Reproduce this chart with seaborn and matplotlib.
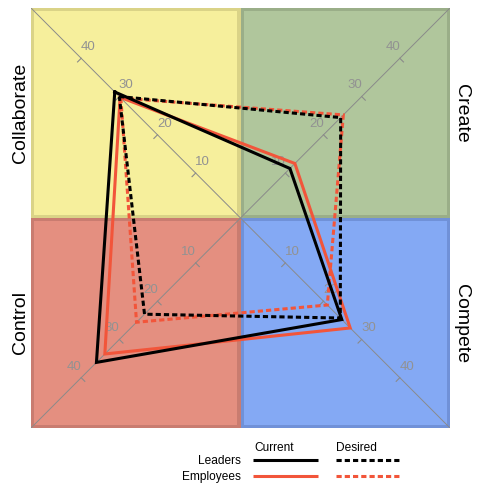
import numpy as np
import pandas as pd
import matplotlib
matplotlib.use("Agg")
import matplotlib.pyplot as plt
from matplotlib.patches import Rectangle
import seaborn as sns

# quadrant order: Collaborate (top-left), Create (top-right), Compete (bottom-right), Control (bottom-left)
quadrants = ["Collaborate", "Create", "Compete", "Control"]
current_leaders = [31.2, 11.2, 24.8, 36.0]
current_employees = [29.8, 12.5, 27.0, 33.8]
desired_leaders = [30.0, 24.5, 24.4, 23.4]
desired_employees = [29.6, 25.2, 21.0, 25.5]
tick_values = [10, 20, 30, 40]

signs = {"Collaborate": (-1, 1), "Create": (1, 1), "Compete": (1, -1), "Control": (-1, -1)}
fills = {"Collaborate": "#f6ef9c", "Create": "#b0c69c", "Compete": "#84a9f4", "Control": "#e48f80"}
edges = {"Collaborate": "#dad387", "Create": "#9aae88", "Compete": "#7091d8", "Control": "#c97c70"}

R0 = 1.75     # radial offset of value 0 from the centre
LIM = 54.9    # half width of the square
BORDER = 0.8

plt.rcParams["font.family"] = ["Liberation Sans", "DejaVu Sans"]
plt.rcParams["lines.solid_joinstyle"] = "miter"
plt.rcParams["lines.dash_joinstyle"] = "miter"


def to_xy(name, v):
    sx, sy = signs[name]
    return sx * (R0 + v), sy * (R0 + v)


# build the long table for seaborn
rows = []
series = [("Employees", "Current", current_employees), ("Employees", "Desired", desired_employees),
          ("Leaders", "Current", current_leaders), ("Leaders", "Desired", desired_leaders)]
for group, state, vals in series:
    order = list(range(len(quadrants))) + [0]
    for i, k in enumerate(order):
        x, y = to_xy(quadrants[k], vals[k])
        rows.append({"group": group, "state": state, "x": x, "y": y, "idx": i})
df = pd.DataFrame(rows)

fig = plt.figure(figsize=(4.86, 4.87), dpi=100)
ax = fig.add_axes([31 / 486, 59 / 487, 419 / 486, 420 / 487])

# quadrant boxes
for name in quadrants:
    sx, sy = signs[name]
    x0 = -LIM if sx < 0 else 0
    y0 = -LIM if sy < 0 else 0
    ax.add_patch(Rectangle((x0, y0), LIM, LIM, facecolor=edges[name], edgecolor="none", zorder=0))
    ax.add_patch(Rectangle((x0 + BORDER, y0 + BORDER), LIM - 2 * BORDER, LIM - 2 * BORDER,
                           facecolor=fills[name], edgecolor="none", zorder=1))

# diagonal axes
ax.plot([-LIM, LIM], [LIM, -LIM], color="#8a8a8a", lw=0.7, zorder=2)
ax.plot([-LIM, LIM], [-LIM, LIM], color="#8a8a8a", lw=0.7, zorder=2)

# ticks and tick labels
for name in quadrants:
    sx, sy = signs[name]
    # "below" side of the diagonal for ticks, "above" side for labels
    down = np.array([-1.0, -1.0]) if sx * sy < 0 else np.array([1.0, -1.0])
    for t in tick_values:
        px, py = to_xy(name, t)
        ex, ey = np.array([px, py]) + down * 0.95
        ax.plot([px, ex], [py, ey], color="#8a8a8a", lw=0.8, zorder=2)
        lx = px + (1.8 if sx * sy < 0 else -1.9)
        ly = py + 2.9
        ax.text(lx, ly, str(t), color="#929292", fontsize=9.5, ha="center", va="center", zorder=2)

sns.lineplot(data=df, x="x", y="y", hue="group", style="state",
             hue_order=["Employees", "Leaders"], style_order=["Current", "Desired"],
             palette={"Leaders": "black", "Employees": "#f2553a"},
             dashes={"Current": "", "Desired": (1.7, 1.0)},
             sort=False, estimator=None, legend=False, linewidth=2.2, ax=ax, zorder=3)

ax.set_xlim(-LIM, LIM)
ax.set_ylim(-LIM, LIM)
ax.set_axis_off()

# quadrant titles
fig.text(21 / 486, 1 - 113 / 487, "Collaborate", rotation=90, fontsize=14, ha="center", va="center")
fig.text(21 / 486, 1 - 323 / 487, "Control", rotation=90, fontsize=14, ha="center", va="center")
fig.text(461 / 486, 1 - 113 / 487, "Create", rotation=270, fontsize=14, ha="center", va="center")
fig.text(461 / 486, 1 - 324 / 487, "Compete", rotation=270, fontsize=14, ha="center", va="center")

# legend drawn in pixel space
lax = fig.add_axes([0, 0, 1, 59 / 487])
lax.set_xlim(0, 486)
lax.set_ylim(487, 428)
lax.set_axis_off()
lax.text(274, 450.7, "Current", fontsize=8.6, ha="center", va="baseline")
lax.text(356, 450.7, "Desired", fontsize=8.6, ha="center", va="baseline")
lax.text(241, 464.3, "Leaders", fontsize=8.6, ha="right", va="baseline")
lax.text(241, 480, "Employees", fontsize=8.6, ha="right", va="baseline")
for label, color, yy in [("Leaders", "black", 459.5), ("Employees", "#f2553a", 475.7)]:
    lax.plot([253, 318], [yy, yy], color=color, lw=2.2, solid_capstyle="butt")
    lax.plot([336, 400], [yy, yy], color=color, lw=2.2, dashes=(1.7, 1.0))

fig.savefig("out.png", dpi=100)
